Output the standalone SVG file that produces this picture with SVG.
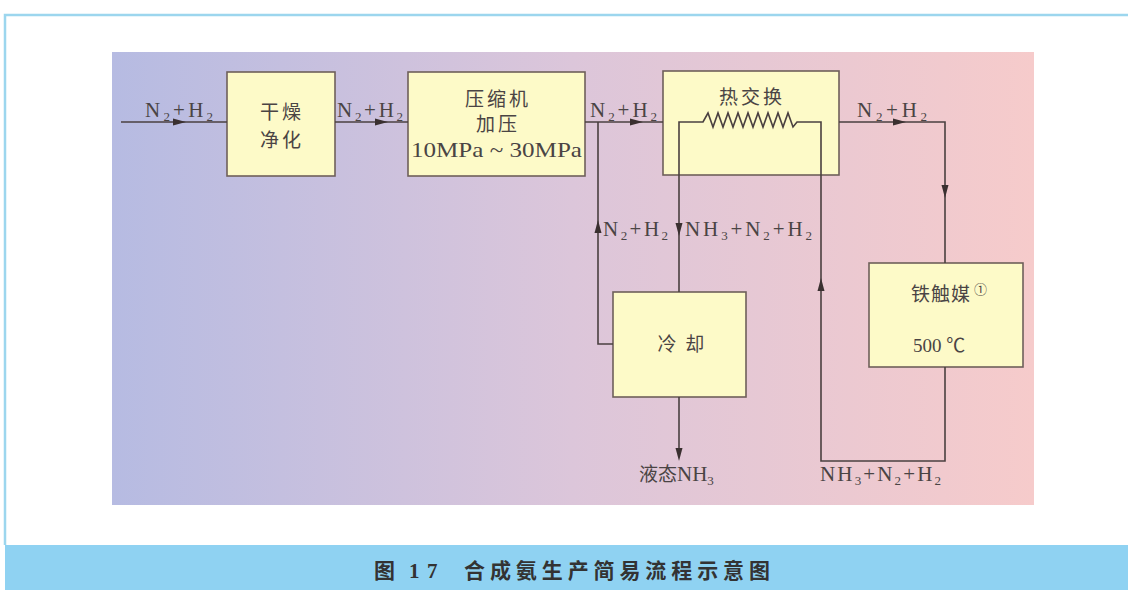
<svg xmlns="http://www.w3.org/2000/svg" width="1128" height="590" viewBox="0 0 1128 590">
<defs>
<linearGradient id="bg" x1="0" y1="0" x2="1" y2="0">
<stop offset="0" stop-color="#b6bbe2"/>
<stop offset="0.5" stop-color="#dcc6da"/>
<stop offset="1" stop-color="#f6cbcb"/>
</linearGradient>
<path id="ar" d="M-7,-3.5 L6,0 L-7,3.5 Z" fill="#3a3030"/>
</defs>
<style>
.box{fill:#fdfac8;stroke:#6e605a;stroke-width:1.6}
.ln{fill:none;stroke:#4a4040;stroke-width:1.6}
.f{font-family:"Liberation Serif",serif;font-size:21px;fill:#4a4444}
.c{font-family:"Liberation Serif","Noto Sans CJK SC",serif;font-size:19px;fill:#4a4444}
.cap{font-family:"Liberation Serif","Noto Sans CJK SC",serif;font-size:21px;font-weight:bold;fill:#333}
</style>
<rect x="0" y="0" width="1128" height="590" fill="#ffffff"/>
<path d="M5,545 V15 H1128" fill="none" stroke="#9cd6ee" stroke-width="2.5"/>
<rect x="5" y="545" width="1123" height="45" fill="#8fd2f2"/>
<rect x="112" y="52" width="922" height="453" fill="url(#bg)"/>
<text class="cap" x="374" y="578">图</text>
<text class="cap" x="409" y="578">1</text>
<text class="cap" x="427" y="578">7</text>
<text class="cap" x="464" y="578" textLength="306" lengthAdjust="spacing">合成氨生产简易流程示意图</text>

<g id="n-dry">
<rect class="box" x="227" y="72" width="108" height="104"/>
<text class="c" x="282" y="119" text-anchor="middle" letter-spacing="3">干燥</text>
<text class="c" x="282" y="147" text-anchor="middle" letter-spacing="3">净化</text>
</g>
<g id="n-compressor">
<rect class="box" x="408" y="72" width="177" height="104"/>
<text class="c" x="498" y="106" text-anchor="middle" letter-spacing="3">压缩机</text>
<text class="c" x="498" y="131" text-anchor="middle" letter-spacing="3">加压</text>
<text class="f" x="411" y="157" textLength="171" lengthAdjust="spacingAndGlyphs">10MPa ~ 30MPa</text>
</g>
<g id="n-heat">
<rect class="box" x="663" y="71" width="176" height="104"/>
<text class="c" x="752" y="104" text-anchor="middle" letter-spacing="3">热交换</text>
</g>
<g id="n-cool">
<rect class="box" x="613" y="292" width="133" height="105"/>
<text class="c" x="682" y="351" text-anchor="middle" letter-spacing="2">冷  却</text>
</g>
<g id="n-catalyst">
<rect class="box" x="869" y="263" width="154" height="104"/>
<text class="c" x="911" y="301" letter-spacing="1">铁触媒<tspan font-size="13" dx="3" dy="-7">①</tspan></text>
<text class="c" x="913" y="352">500 ℃</text>
</g>

<g id="connectors">
<path class="ln" d="M121,122 H227"/>
<path class="ln" d="M335,122 H408"/>
<path class="ln" d="M585,122 H663"/>
<path class="ln" d="M839,122 H945 V263"/>
<path class="ln" d="M598,122 V344 H613"/>
<path class="ln" d="M679,292 V122 H703 L708,113 L713,127 L718,113 L723,127 L728,113 L733,127 L738,113 L743,127 L748,113 L753,127 L758,113 L763,127 L768,113 L773,127 L778,113 L783,127 L788,113 L793,127 L797,122 H821 V461 H945 V367"/>
<path class="ln" d="M679,397 V455"/>
<use href="#ar" transform="translate(180,122)"/>
<use href="#ar" transform="translate(382,122)"/>
<use href="#ar" transform="translate(637,122)"/>
<use href="#ar" transform="translate(900,122)"/>
<use href="#ar" transform="translate(945,192) rotate(90)"/>
<use href="#ar" transform="translate(598,226) rotate(-90)"/>
<use href="#ar" transform="translate(679,230) rotate(90)"/>
<use href="#ar" transform="translate(821,284) rotate(-90)"/>
<use href="#ar" transform="translate(679,455) rotate(90)"/>
</g>

<g id="labels">
<text class="f" x="145" y="117" textLength="68" lengthAdjust="spacing">N<tspan font-size="13" dy="4">2</tspan><tspan dy="-4">+H</tspan><tspan font-size="13" dy="4">2</tspan></text>
<text class="f" x="337" y="117" textLength="66" lengthAdjust="spacing">N<tspan font-size="13" dy="4">2</tspan><tspan dy="-4">+H</tspan><tspan font-size="13" dy="4">2</tspan></text>
<text class="f" x="590" y="117" textLength="67" lengthAdjust="spacing">N<tspan font-size="13" dy="4">2</tspan><tspan dy="-4">+H</tspan><tspan font-size="13" dy="4">2</tspan></text>
<text class="f" x="857" y="117" textLength="70" lengthAdjust="spacing">N<tspan font-size="13" dy="4">2</tspan><tspan dy="-4">+H</tspan><tspan font-size="13" dy="4">2</tspan></text>
<text class="f" x="603" y="236" textLength="65" lengthAdjust="spacing">N<tspan font-size="13" dy="4">2</tspan><tspan dy="-4">+H</tspan><tspan font-size="13" dy="4">2</tspan></text>
<text class="f" x="685" y="236" textLength="127" lengthAdjust="spacing">NH<tspan font-size="13" dy="4">3</tspan><tspan dy="-4">+N</tspan><tspan font-size="13" dy="4">2</tspan><tspan dy="-4">+H</tspan><tspan font-size="13" dy="4">2</tspan></text>
<text class="f" x="820" y="481" textLength="121" lengthAdjust="spacing">NH<tspan font-size="13" dy="4">3</tspan><tspan dy="-4">+N</tspan><tspan font-size="13" dy="4">2</tspan><tspan dy="-4">+H</tspan><tspan font-size="13" dy="4">2</tspan></text>
<text class="c" x="639" y="481">液态<tspan class="f">NH</tspan><tspan font-size="13" dy="4">3</tspan></text>
</g>
</svg>
